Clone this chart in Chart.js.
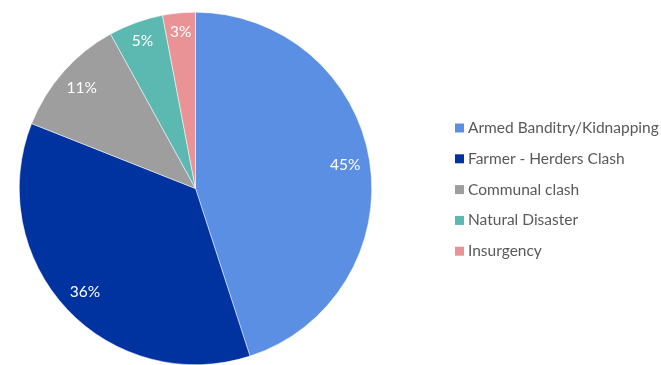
<!DOCTYPE html>
<html lang="en">
<head>
    <meta charset="UTF-8">
    <title>Causes of displacement</title>
    <script src="https://cdn.jsdelivr.net/npm/chart.js"></script>
    <style>
        html, body { margin: 0; padding: 0; background: #fff; }
        #wrap { width: 661px; height: 365px; position: relative; }
    </style>
</head>
<body>
<div id="wrap"><canvas id="pieChart"></canvas></div>

<script>
    // Données du graphique
    var causes = ['Armed Banditry/Kidnapping', 'Farmer - Herders Clash', 'Communal clash', 'Natural Disaster', 'Insurgency'];
    var pourcentages = [45, 36, 11, 5, 3];
    var couleurs = ['#5b8fe3', '#00339f', '#9e9e9e', '#5bb9b1', '#e99397'];

    // Étiquettes blanches dans chaque part
    var pctLabels = {
        id: 'pctLabels',
        afterDatasetsDraw: function (chart) {
            var ctx = chart.ctx;
            var arcs = chart.getDatasetMeta(0).data;
            ctx.save();
            ctx.fillStyle = '#ffffff';
            ctx.font = '15.5px Lato, sans-serif';
            ctx.textAlign = 'center';
            ctx.textBaseline = 'middle';
            arcs.forEach(function (arc, i) {
                var p = arc.getProps(['x', 'y', 'startAngle', 'endAngle', 'outerRadius']);
                var mid = (p.startAngle + p.endAngle) / 2;
                var r = p.outerRadius * (i >= 3 ? 0.89 : 0.86);
                ctx.fillText(pourcentages[i] + '%', p.x + Math.cos(mid) * r, p.y + Math.sin(mid) * r);
            });
            ctx.restore();
        }
    };

    // Légende dessinée à droite
    var legendeDroite = {
        id: 'legendeDroite',
        afterDraw: function (chart) {
            var ctx = chart.ctx;
            ctx.save();
            ctx.font = '15.5px Lato, sans-serif';
            ctx.textBaseline = 'middle';
            causes.forEach(function (c, i) {
                var y = 128 + i * 30.8;
                ctx.fillStyle = couleurs[i];
                ctx.fillRect(455, y - 4.5, 9, 9);
                ctx.fillStyle = '#595959';
                ctx.fillText(c, 468, y);
            });
            ctx.restore();
        }
    };

    var pieChart = new Chart(document.getElementById('pieChart').getContext('2d'), {
        type: 'pie',
        data: {
            labels: causes,
            datasets: [{
                data: pourcentages,
                backgroundColor: couleurs,
                borderColor: '#ffffff',
                borderWidth: 0.5
            }]
        },
        options: {
            responsive: true,
            maintainAspectRatio: false,
            animation: false,
            layout: { padding: { left: 17.5, right: 287.5, top: 12, bottom: 0 } },
            plugins: {
                legend: { display: false },
                tooltip: { enabled: false }
            }
        },
        plugins: [pctLabels, legendeDroite]
    });
</script>
</body>
</html>
